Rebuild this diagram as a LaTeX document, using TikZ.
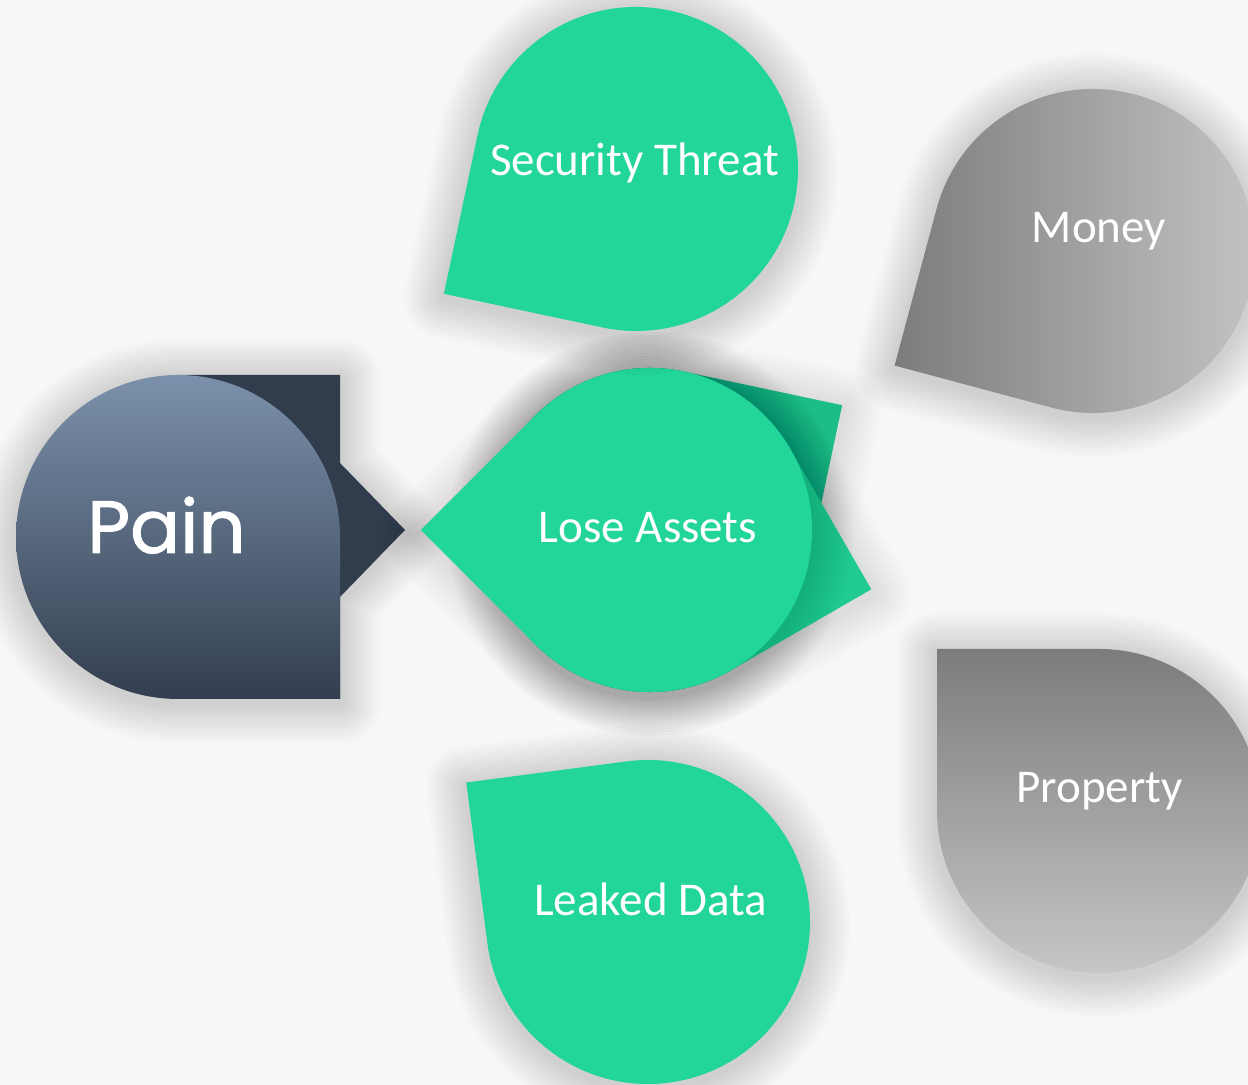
\documentclass[tikz,border=0pt]{standalone}
\usepackage{fontspec}
\setmainfont{Carlito}
\newfontfamily\painfont[FakeBold=1.3]{Poppins}
\definecolor{bgc}{HTML}{F7F7F7}
\definecolor{mint}{HTML}{22D598}
\definecolor{mintbackA}{HTML}{1DBD88}
\definecolor{mintbackB}{HTML}{20CA91}
\definecolor{navytop}{HTML}{7B91AB}
\definecolor{navymid}{HTML}{47566D}
\definecolor{navybot}{HTML}{333E4F}
\definecolor{navyback}{HTML}{313C4D}
\definecolor{graydark}{HTML}{7C7C7C}
\definecolor{graylight}{HTML}{C6C6C6}
\tikzset{
  shadowring/.style={draw=black, draw opacity=#1, line join=round, yshift=-2pt},
  shadowring/.default=0.011,
  droplabel/.style={text=white, font=\fontsize{23.5}{28}\selectfont, anchor=base, inner sep=0pt},
}
\newcommand\shadowwidths{40,37,34,31,28,25,22,19,16,13,10,7,4}
% teardrop: [style]{cx}{cy}{corner angle}
\newcommand\tdrop[4][]{%
  \path[#1] (#2,#3) ++(#4:229.1) -- ([shift={(#4+45:162)}]#2,#3)
    arc[start angle=#4+45, end angle=#4+315, radius=162] -- cycle;}
% soft shadow of a teardrop: [opacity]{cx}{cy}{corner angle}
\newcommand\tshadow[4][0.011]{%
  \foreach \w in \shadowwidths {\tdrop[shadowring=#1, line width=\w pt]{#2}{#3}{#4}}}
\begin{document}
\begin{tikzpicture}[x=0.5pt,y=0.5pt]
  \fill[bgc] (0,0) rectangle (1248,1085);
  \useasboundingbox (0,0) rectangle (1248,1085);

  % Pain
  \foreach \w in \shadowwidths {
    \path[shadowring, line width=\w pt] (178,710) -- (340,710) -- (340,622) -- (405,555)
       -- (340,488) -- (340,386) -- (178,386) arc[start angle=270, end angle=90, radius=162] -- cycle;}
  \path[fill=navyback] (178,710) -- (340,710) -- (340,622) -- (405,555)
     -- (340,488) -- (340,386) -- (178,386) -- cycle;
  \tdrop[top color=navytop, middle color=navymid, bottom color=navybot]{178}{548}{-45}
  \node[text=white, font=\painfont\fontsize{37}{44}\selectfont, anchor=base, inner sep=0pt] (pain) at (166.5,532) {Pain};

  % Lose Assets
  \tshadow[0.006]{650}{555}{33}
  \tdrop[fill=mintbackA]{650}{555}{33}
  \tshadow[0.006]{650}{555}{-15}
  \tdrop[fill=mintbackB]{650}{555}{-15}
  \tshadow[0.008]{650}{555}{180}
  \tdrop[fill=mint]{650}{555}{180}
  \node[droplabel] (lose) at (648,542) {Lose Assets};

  % Security Threat
  \tshadow{636}{916}{213}
  \tdrop[fill=mint]{636}{916}{213}
  \node[droplabel] (sec) at (634.5,909) {Security Threat};

  % Leaked Data
  \tshadow{648}{163}{142.5}
  \tdrop[fill=mint]{648}{163}{142.5}
  \node[droplabel] (leak) at (650.5,169) {Leaked Data};

  % Money
  \tshadow{1093}{834}{210}
  \tdrop[left color=graydark, right color=graylight]{1093}{834}{210}
  \node[droplabel] (money) at (1099,842) {Money};

  % Property
  \tshadow{1099}{274}{135}
  \tdrop[top color=graydark, bottom color=graylight]{1099}{274}{135}
  \node[droplabel] (prop) at (1099.5,282) {Property};
\end{tikzpicture}
\end{document}
